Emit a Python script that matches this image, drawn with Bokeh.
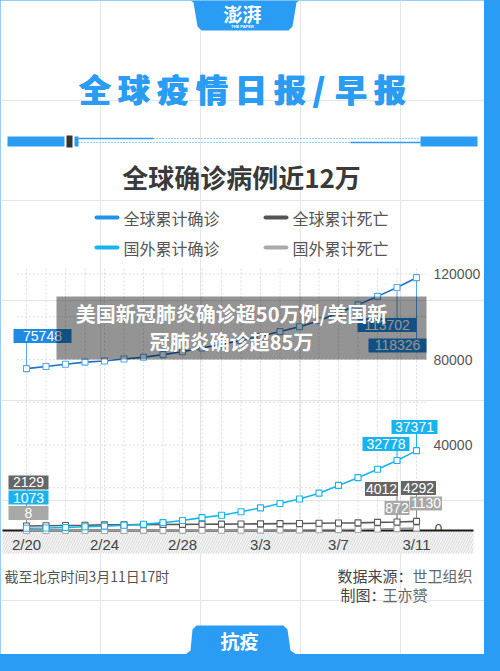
from bokeh.plotting import figure
from bokeh.models import Range1d, Label, BoxAnnotation, GlobalInlineStyleSheet
from bokeh.core.properties import value
from bokeh.embed import file_html
from bokeh.resources import INLINE

# ---------------- data ----------------
dates = ["2/20", "2/21", "2/22", "2/23", "2/24", "2/25", "2/26", "2/27", "2/28", "2/29",
         "3/1", "3/2", "3/3", "3/4", "3/5", "3/6", "3/7", "3/8", "3/9", "3/10", "3/11"]
global_confirmed = [75748, 76769, 77794, 78811, 79331, 80239, 81109, 82294, 83652, 85403,
                    87137, 88948, 90870, 93090, 95324, 98192, 101927, 105586, 109577, 113702, 118326]
foreign_confirmed = [1073, 1200, 1402, 1769, 2069, 2459, 2918, 3664, 4691, 6009,
                     7169, 8774, 10566, 12668, 14768, 17481, 21110, 24727, 28674, 32778, 37371]
global_deaths = [2129, 2247, 2359, 2462, 2618, 2699, 2762, 2804, 2858, 2924,
                 2977, 3043, 3112, 3198, 3285, 3380, 3486, 3584, 3809, 4012, 4292]
foreign_deaths = [8, 8, 11, 17, 23, 34, 44, 57, 67, 86,
                  104, 128, 166, 214, 267, 335, 413, 484, 686, 872, 1130]
series_names = ["全球累计确诊", "全球累计死亡", "国外累计确诊", "国外累计死亡"]
x_tick_labels = ["2/20", "2/24", "2/28", "3/3", "3/7", "3/11"]
y_tick_values = [0, 40000, 80000, 120000]
y_grid_values = [20000, 40000, 60000, 80000, 100000, 120000]
title_text = "全球疫情日报/早报"
chart_title = "全球确诊病例近12万"
banner_lines = ["美国新冠肺炎确诊超50万例/美国新", "冠肺炎确诊超85万"]

# ---------------- styles ----------------
BLUE_FRAME = "#2a9cf3"
C_GC_LINE = "#1c72c6"
C_GC_MARK = "#55aaea"
C_GC_BOX = "#1f8ae2"
C_FC = "#18b4ef"
C_GD = "#5a5a5a"
C_GD_BOX = "#666666"
C_FD = "#a8a8a8"
CJK = "Noto Sans CJK SC"
CJK_HEAVY = "'Noto Sans CJK SC Black', 'Noto Sans CJK SC'"
LAT = "Liberation Sans"

W, H = 484, 654
X0_PX, DAY_PX = 26.0, 19.5      # screen x of first day, px per day
Y0_PX, VPP = 530.0, 468.0       # screen y of zero, value per px

p = figure(width=W, height=H, x_range=Range1d(0, W), y_range=Range1d(H, 0),
           output_backend="svg", toolbar_location=None, min_border=0,
           x_axis_location=None, y_axis_location=None,
           background_fill_color="white", border_fill_color="white",
           outline_line_color=None,
           stylesheets=[GlobalInlineStyleSheet(css="body{background:%s;}" % BLUE_FRAME)])
p.extra_x_ranges = {"d": Range1d(-X0_PX / DAY_PX, (W - X0_PX) / DAY_PX)}
p.extra_y_ranges = {"v": Range1d(-(H - Y0_PX) * VPP, Y0_PX * VPP)}
DV = dict(x_range_name="d", y_range_name="v")

# ---------------- header ----------------
p.patch([190, 193, 197, 201, 288, 292, 296, 299], [0, 2, 26, 30, 30, 26, 2, 0],
        fill_color=BLUE_FRAME, line_color=None)
p.text(x=[242], y=[13], text=["澎湃"], text_font=value(CJK), text_font_size="19px",
       text_font_style="bold", text_color="white", text_align="center", text_baseline="middle")
p.text(x=[242], y=[26], text=["THE PAPER"], text_font=value(LAT), text_font_size="4px",
       text_font_style="bold", text_color="white", text_align="center", text_baseline="middle")

title_x = [94, 133, 172, 211, 250, 289, 318, 350, 389]
for shift in (0, 0.9):
    p.text(x=[t + shift for t in title_x], y=[87] * len(title_x), text=list(title_text),
           text_font=value(CJK_HEAVY), text_font_size="32px", text_font_style="bold",
           text_color=BLUE_FRAME, text_align="center", text_baseline="middle")

# decorative rule
p.quad(left=[7, 74, 420], right=[64, 78, 477], top=[136, 136, 136], bottom=[146, 146, 146],
       fill_color=BLUE_FRAME, line_color=None)
p.quad(left=[66], right=[72], top=[135], bottom=[147], fill_color="#333333", line_color=None)
p.segment(x0=[78, 350], y0=[138, 142], x1=[153, 420], y1=[138, 142], line_color=BLUE_FRAME, line_width=1.5)
p.segment(x0=[153, 78], y0=[138, 142], x1=[420, 350], y1=[138, 142], line_color=BLUE_FRAME,
          line_width=1.2, line_dash="1 2")

p.text(x=[241], y=[176], text=[chart_title], text_font=value(CJK), text_font_size="26px",
       text_font_style="bold", text_color="#3a3a3a", text_align="center", text_baseline="middle")

# legend
leg_colors = ["#2393ea", "#555555", C_FC, "#aaaaaa"]
leg_x = [96, 265, 96, 265]
leg_y = [217, 217, 247, 247]
p.segment(x0=leg_x, y0=leg_y, x1=[x + 21 for x in leg_x], y1=leg_y, line_color=leg_colors,
          line_width=4, line_cap="round")
p.text(x=[x + 27 for x in leg_x], y=leg_y, text=series_names, text_font=value(CJK),
       text_font_size="16px", text_color="#555555", text_align="left", text_baseline="middle")

# ---------------- chart ----------------
days = list(range(len(dates)))
n = len(days)
# grid
p.segment(x0=[-0.5] * len(y_grid_values), y0=y_grid_values, x1=[20.5] * len(y_grid_values),
          y1=y_grid_values, line_color="#dcdcdc", line_dash="2 2", line_width=1, **DV)
p.segment(x0=days, y0=[0] * n, x1=days, y1=[122500] * n, line_color="#dcdcdc",
          line_dash="2 2", line_width=1, **DV)

# y tick labels (right)
p.text(x=[433] * 3, y=y_tick_values[1:], text=[str(v) for v in y_tick_values[1:]],
       text_font=value(LAT), text_font_size="14px", text_color="#555555",
       text_align="left", text_baseline="middle", y_range_name="v")
p.text(x=[434], y=y_tick_values[:1], text=[str(y_tick_values[0])], y_offset=-2,
       text_font=value(LAT), text_font_size="14px", text_color="#555555",
       text_align="left", text_baseline="middle", y_range_name="v")

# band under axis
p.quad(left=[2], right=[473], top=[530], bottom=[553], fill_color="#f6f6f6",
       hatch_pattern="/", hatch_color="#d8d8d8", hatch_scale=5, hatch_weight=1, line_color=None)
p.segment(x0=[2], y0=[530], x1=[473], y1=[530], line_color="#1a1a1a", line_width=2)

tick_days = [dates.index(t) for t in x_tick_labels]
p.text(x=tick_days, y=[544] * len(tick_days), text=x_tick_labels, text_font=value(LAT),
       text_font_size="15px", text_color="#444444", text_align="center", text_baseline="middle",
       x_range_name="d")

# data labels: (series, day, dx_px, dy_px(down), box colour, box width px, leader colour)
label_defs = [
    (global_confirmed, 0, 16, -32.6, C_GC_BOX, 58, C_GC_MARK),
    (global_confirmed, 19, -10, 37.5, C_GC_BOX, 59, C_GC_MARK),
    (global_confirmed, 20, -19, 67.8, C_GC_BOX, 58, C_GC_MARK),
    (foreign_confirmed, 20, -2, -23.6, C_FC, 46, C_FC),
    (foreign_confirmed, 19, -11, -16.5, C_FC, 47, C_FC),
    (global_deaths, 0, 2, -43.5, C_GD_BOX, 40, "#888888"),
    (foreign_confirmed, 0, 2, -30.7, C_FC, 40, "#888888"),
    (foreign_deaths, 0, 2, -17.5, C_FD, 40, "#888888"),
    (global_deaths, 19, -15.5, -32.9, C_GD_BOX, 33, "#888888"),
    (foreign_deaths, 19, 0, -20.6, C_FD, 25, "#888888"),
    (global_deaths, 20, 2, -33.3, C_GD_BOX, 35, "#888888"),
    (foreign_deaths, 20, 9.5, -24.6, C_FD, 32, "#888888"),
]
lx0, ly0, ly1, lcol = [], [], [], []
bx, by, bw, bcol, btxt = [], [], [], [], []
for s, k, dx, dy, bc, w, lc in label_defs:
    lx0.append(k)
    ly0.append(s[k])
    ly1.append(s[k] - dy * VPP)
    lcol.append(lc)
    bx.append(k + dx / DAY_PX)
    by.append(s[k] - dy * VPP)
    bw.append(w)
    bcol.append(bc)
    btxt.append(str(s[k]))
p.segment(x0=lx0, y0=ly0, x1=lx0, y1=ly1, line_color=lcol, line_width=1, **DV)

# series lines and markers
series = [
    (foreign_deaths, "#9a9a9a", C_FD),
    (global_deaths, C_GD, C_GD),
    (foreign_confirmed, C_FC, C_FC),
    (global_confirmed, C_GC_LINE, C_GC_MARK),
]
for s, lc, mc in series:
    p.line(days, s, line_color=lc, line_width=1.6, **DV)
for s, lc, mc in series:
    p.scatter(days, s, marker="square", size=6, fill_color="white", line_color=mc,
              line_width=1.1, **DV)

# label boxes and texts
p.rect(x=bx, y=by, width=bw, height=[14] * len(bw), width_units="screen", height_units="screen",
       fill_color=bcol, line_color=None, **DV)
p.text(x=bx, y=by, text=btxt, text_font=value(LAT), text_font_size="14px", text_color="white",
       text_align="center", text_baseline="middle", **DV)

# overlay banner
p.add_layout(BoxAnnotation(left=56, right=426, top=296, bottom=359, fill_color="black",
                           fill_alpha=0.42, line_color=None, line_alpha=0))
for txt, ty in zip(banner_lines, [313, 341]):
    p.add_layout(Label(x=231, y=ty, text=txt, text_font=CJK, text_font_size="20px",
                       text_font_style="bold", text_color="white", text_align="center",
                       text_baseline="middle"))

# ---------------- footer ----------------
p.text(x=[4], y=[575], text=["截至北京时间3月11日17时"], text_font=value(CJK),
       text_font_size="14px", text_color="#555555", text_align="left", text_baseline="middle")
p.text(x=[337, 340], y=[575, 594], text=["数据来源：", "制图："], text_font=value(CJK),
       text_font_size="15px", text_color="#444444", text_align="left", text_baseline="middle")
p.text(x=[412, 382], y=[575, 594], text=["世卫组织", "王亦赟"], text_font=value(CJK),
       text_font_size="15px", text_color="#666666", text_align="left", text_baseline="middle")

p.patch([185, 190, 192, 196, 283, 287, 290, 296], [654, 650, 629, 625, 625, 629, 650, 654],
        fill_color=BLUE_FRAME, line_color=None)
p.text(x=[239], y=[640], text=["抗疫"], text_font=value(CJK), text_font_size="19px",
       text_font_style="bold", text_color="white", text_align="center", text_baseline="middle")

open("out.html", "w").write(file_html(p, INLINE))
